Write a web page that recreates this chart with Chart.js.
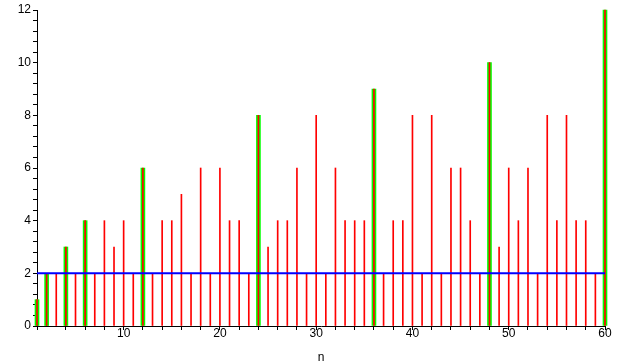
<!DOCTYPE html>
<html>
<head>
<meta charset="utf-8">
<script src="https://cdn.jsdelivr.net/npm/chart.js@4.4.0/dist/chart.umd.min.js"></script>
<style>
  html, body { margin: 0; padding: 0; background: #fff; }
  #wrap { width: 633px; height: 364px; }
</style>
</head>
<body>
<div id="wrap"><canvas id="grafico"></canvas></div>
<script>
// Valores n = 1..60 (líneas rojas)
const valoresN = [];
for (let i = 1; i <= 60; i++) valoresN.push(i);
const valoresRojos = [1, 2, 2, 3, 2, 4, 2, 4, 3, 4, 2, 6, 2, 4, 4, 5, 2, 6, 2, 6,
                      4, 4, 2, 8, 3, 4, 4, 6, 2, 8, 2, 6, 4, 4, 4, 9, 2, 4, 4, 8,
                      2, 8, 2, 6, 6, 4, 2, 10, 3, 6, 4, 6, 2, 8, 4, 8, 4, 4, 2, 12];
// Barras verdes (récords)
const nVerdes = [1, 2, 4, 6, 12, 24, 36, 48, 60];
const valoresVerdes = [1, 2, 3, 4, 6, 8, 9, 10, 12];
// Línea azul horizontal
const lineaAzulX = [1, 60];
const lineaAzulY = [2, 2];

const fuente = { family: 'Liberation Sans', size: 12 };

new Chart(document.getElementById('grafico'), {
    type: 'bar',
    data: {
        datasets: [
            {
                type: 'line',
                data: lineaAzulX.map((x, i) => ({ x: x, y: lineaAzulY[i] })),
                borderColor: '#0000ff',
                borderWidth: 2,
                pointRadius: 0,
                order: 0,
                clip: false
            },
            {
                data: valoresN.map((x, i) => ({ x: x, y: valoresRojos[i] })),
                backgroundColor: '#ff0000',
                barThickness: 1,
                grouped: false,
                order: 1,
                clip: false
            },
            {
                data: nVerdes.map((x, i) => ({ x: x, y: valoresVerdes[i] })),
                backgroundColor: '#00ff00',
                barThickness: 4,
                grouped: false,
                order: 2,
                clip: false
            }
        ]
    },
    options: {
        responsive: true,
        maintainAspectRatio: false,
        animation: false,
        layout: { padding: { top: 10, right: 28, left: 0, bottom: 0 } },
        plugins: { legend: { display: false }, tooltip: { enabled: false } },
        scales: {
            x: {
                type: 'linear',
                min: 1,
                max: 60,
                offset: false,
                grid: { drawOnChartArea: false, offset: false, tickLength: 4, color: '#000' },
                border: { color: '#000', width: 1 },
                ticks: {
                    stepSize: 2,
                    autoSkip: false,
                    maxRotation: 0,
                    color: '#000',
                    font: fuente,
                    padding: -4,
                    callback: v => (v % 10 === 0 ? String(v) : '')
                },
                title: { display: true, text: 'n', color: '#000', font: fuente, padding: { top: 8, bottom: -1 } },
                afterFit: s => { s.height = 38; }
            },
            y: {
                min: 0,
                max: 12,
                grid: { drawOnChartArea: false, tickLength: 4, color: '#000' },
                border: { color: '#000', width: 1 },
                ticks: {
                    stepSize: 0.4,
                    autoSkip: false,
                    color: '#000',
                    font: fuente,
                    padding: 2,
                    callback: v => (Math.abs(v - Math.round(v / 2) * 2) < 1e-6 ? String(Math.round(v)) : '')
                },
                afterFit: s => { s.width = 37; }
            }
        }
    }
});
</script>
</body>
</html>
